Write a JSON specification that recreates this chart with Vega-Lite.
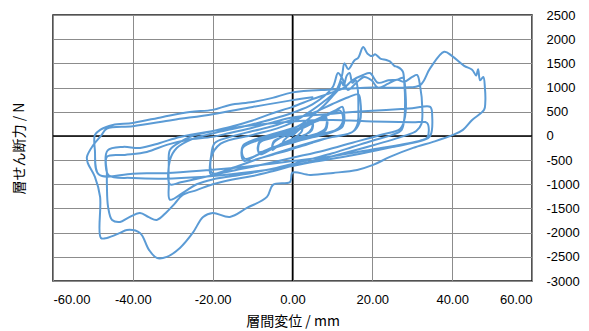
{
"$schema":"https://vega.github.io/schema/vega-lite/v6.json",
"width":479,"height":266,
"autosize":{"type":"none"},
"padding":{"left":53,"top":15,"right":57,"bottom":50},
"background":"white",
"config":{"view":{"stroke":"#1a1a1a","strokeWidth":1.5}},
"layer":[
{"data":{"values":[{"zero":0}]},"mark":{"type":"rule","color":"#000","strokeWidth":1.5},"encoding":{"x":{"field":"zero","type":"quantitative","scale":{"domain":[-60,60],"nice":false},
"axis":{"values":[-60,-40,-20,0,20,40,60],"labelExpr":"datum.value < 0 ? '-' + format(-datum.value, '.2f') : format(datum.value, '.2f')","grid":true,"gridColor":"#8c8c8c","gridWidth":1,"domain":false,"ticks":false,"labelPadding":12,"labelFont":"Liberation Sans","labelFontSize":13,"labelColor":"#000","title":"層間変位 / mm","titleFont":"Noto Sans CJK JP","titleFontSize":14,"titleFontWeight":"normal","titleColor":"#000","titleBaseline":"middle","titleY":40}}}},
{"data":{"values":[{"zero":0}]},"mark":{"type":"rule","color":"#000","strokeWidth":1.5},"encoding":{"y":{"field":"zero","type":"quantitative","scale":{"domain":[-3000,2500],"nice":false},
"axis":{"orient":"right","values":[-3000,-2500,-2000,-1500,-1000,-500,0,500,1000,1500,2000,2500],"labelExpr":"datum.value < 0 ? '-' + format(-datum.value, 'd') : format(datum.value, 'd')","grid":true,"gridColor":"#8c8c8c","gridWidth":1,"domain":false,"ticks":false,"labelPadding":14,"labelFont":"Liberation Sans","labelFontSize":13,"labelColor":"#000","labelAlign":"left","title":"層せん断力 / N","titleFont":"Noto Sans CJK JP","titleFontSize":14,"titleFontWeight":"normal","titleColor":"#000","titleAngle":270,"titleAlign":"center","titleBaseline":"middle","titleX":-513,"titleY":133}}}},
{"data":{"values":[
{"i":1,"x":0,"y":0},{"i":2,"x":1,"y":80},{"i":3,"x":2,"y":150},{"i":4,"x":2.5,"y":180},{"i":5,"x":2.3,"y":90},{"i":6,"x":1.5,"y":20},{"i":7,"x":0,"y":-60},{"i":8,"x":-1,"y":-110},{"i":9,"x":-2,"y":-170},{"i":10,"x":-2.5,"y":-200},
{"i":11,"x":-2.3,"y":-110},{"i":12,"x":-1.5,"y":-40},{"i":13,"x":0,"y":40},{"i":14,"x":2,"y":150},{"i":15,"x":4,"y":240},{"i":16,"x":5,"y":290},{"i":17,"x":4.8,"y":150},{"i":18,"x":3.5,"y":40},{"i":19,"x":1,"y":-50},{"i":20,"x":-2,"y":-140},
{"i":21,"x":-4,"y":-230},{"i":22,"x":-5,"y":-290},{"i":23,"x":-4.8,"y":-150},{"i":24,"x":-3.5,"y":-60},{"i":25,"x":-1,"y":30},{"i":26,"x":2,"y":170},{"i":27,"x":5,"y":270},{"i":28,"x":4.8,"y":110},{"i":29,"x":3,"y":20},{"i":30,"x":0,"y":-70},
{"i":31,"x":-3,"y":-170},{"i":32,"x":-5,"y":-260},{"i":33,"x":-4.7,"y":-110},{"i":34,"x":-2.5,"y":-20},{"i":35,"x":0,"y":70},{"i":36,"x":3,"y":200},{"i":37,"x":6,"y":330},{"i":38,"x":8,"y":400},{"i":39,"x":8.5,"y":370},{"i":40,"x":8.2,"y":150},
{"i":41,"x":6,"y":40},{"i":42,"x":2,"y":-60},{"i":43,"x":-2,"y":-150},{"i":44,"x":-5,"y":-260},{"i":45,"x":-8,"y":-380},{"i":46,"x":-8.5,"y":-340},{"i":47,"x":-8.2,"y":-140},{"i":48,"x":-5,"y":-40},{"i":49,"x":-1,"y":60},{"i":50,"x":3,"y":180},
{"i":51,"x":6,"y":300},{"i":52,"x":8.5,"y":360},{"i":53,"x":8.3,"y":120},{"i":54,"x":5,"y":20},{"i":55,"x":0,"y":-90},{"i":56,"x":-5,"y":-240},{"i":57,"x":-8.5,"y":-330},{"i":58,"x":-8.2,"y":-110},{"i":59,"x":-4,"y":0},{"i":60,"x":0,"y":100},
{"i":61,"x":4,"y":260},{"i":62,"x":8,"y":420},{"i":63,"x":11,"y":540},{"i":64,"x":12.5,"y":600},{"i":65,"x":12.8,"y":540},{"i":66,"x":12.6,"y":200},{"i":67,"x":10,"y":80},{"i":68,"x":5,"y":-30},{"i":69,"x":0,"y":-140},{"i":70,"x":-5,"y":-260},
{"i":71,"x":-9,"y":-400},{"i":72,"x":-12,"y":-520},{"i":73,"x":-12.6,"y":-470},{"i":74,"x":-12.4,"y":-200},{"i":75,"x":-9,"y":-60},{"i":76,"x":-4,"y":60},{"i":77,"x":0,"y":160},{"i":78,"x":4,"y":280},{"i":79,"x":8,"y":400},{"i":80,"x":12,"y":520},
{"i":81,"x":12.6,"y":300},{"i":82,"x":11,"y":130},{"i":83,"x":6,"y":20},{"i":84,"x":0,"y":-120},{"i":85,"x":-6,"y":-290},{"i":86,"x":-12,"y":-470},{"i":87,"x":-12.5,"y":-250},{"i":88,"x":-8,"y":-70},{"i":89,"x":-2,"y":70},{"i":90,"x":2,"y":230},
{"i":91,"x":5,"y":420},{"i":92,"x":8,"y":640},{"i":93,"x":10,"y":820},{"i":94,"x":11.5,"y":960},{"i":95,"x":12.2,"y":1120},{"i":96,"x":12.8,"y":1040},{"i":97,"x":13.6,"y":1250},{"i":98,"x":14.3,"y":1300},{"i":99,"x":15,"y":1100},{"i":100,"x":15.8,"y":1150},
{"i":101,"x":16.3,"y":1000},{"i":102,"x":16.5,"y":600},{"i":103,"x":16.3,"y":250},{"i":104,"x":15,"y":80},{"i":105,"x":10,"y":-20},{"i":106,"x":5,"y":-140},{"i":107,"x":0,"y":-270},{"i":108,"x":-5,"y":-390},{"i":109,"x":-10,"y":-510},{"i":110,"x":-14,"y":-640},
{"i":111,"x":-17,"y":-730},{"i":112,"x":-20,"y":-820},{"i":113,"x":-20.6,"y":-780},{"i":114,"x":-20.4,"y":-420},{"i":115,"x":-19.5,"y":-150},{"i":116,"x":-16,"y":-30},{"i":117,"x":-10,"y":100},{"i":118,"x":-5,"y":200},{"i":119,"x":0,"y":340},{"i":120,"x":5,"y":470},
{"i":121,"x":10,"y":660},{"i":122,"x":14,"y":800},{"i":123,"x":16.5,"y":860},{"i":124,"x":17,"y":720},{"i":125,"x":16.8,"y":280},{"i":126,"x":15,"y":80},{"i":127,"x":8,"y":-60},{"i":128,"x":0,"y":-250},{"i":129,"x":-8,"y":-460},{"i":130,"x":-15,"y":-660},
{"i":131,"x":-20,"y":-770},{"i":132,"x":-20.4,"y":-460},{"i":133,"x":-18,"y":-160},{"i":134,"x":-10,"y":20},{"i":135,"x":-4,"y":150},{"i":136,"x":0,"y":280},{"i":137,"x":4,"y":480},{"i":138,"x":8,"y":720},{"i":139,"x":11,"y":950},{"i":140,"x":12.4,"y":1250},
{"i":141,"x":13,"y":1500},{"i":142,"x":14,"y":1380},{"i":143,"x":15.5,"y":1560},{"i":144,"x":16.5,"y":1620},{"i":145,"x":17.7,"y":1840},{"i":146,"x":18.8,"y":1700},{"i":147,"x":20,"y":1650},{"i":148,"x":20.7,"y":1690},{"i":149,"x":22,"y":1600},{"i":150,"x":23.5,"y":1570},
{"i":151,"x":24.4,"y":1540},{"i":152,"x":25.5,"y":1450},{"i":153,"x":26.2,"y":1430},{"i":154,"x":27.2,"y":1380},{"i":155,"x":27.7,"y":1320},{"i":156,"x":28,"y":1100},{"i":157,"x":28.2,"y":700},{"i":158,"x":28,"y":350},{"i":159,"x":27.3,"y":120},{"i":160,"x":25,"y":20},
{"i":161,"x":20,"y":-100},{"i":162,"x":15,"y":-230},{"i":163,"x":10,"y":-360},{"i":164,"x":5,"y":-470},{"i":165,"x":0,"y":-580},{"i":166,"x":-5,"y":-680},{"i":167,"x":-10,"y":-760},{"i":168,"x":-15,"y":-830},{"i":169,"x":-20,"y":-900},{"i":170,"x":-24,"y":-1000},
{"i":171,"x":-27,"y":-1150},{"i":172,"x":-30.7,"y":-1320},{"i":173,"x":-31,"y":-1000},{"i":174,"x":-31,"y":-600},{"i":175,"x":-30.7,"y":-290},{"i":176,"x":-28,"y":-120},{"i":177,"x":-25,"y":0},{"i":178,"x":-20,"y":100},{"i":179,"x":-15,"y":200},{"i":180,"x":-10,"y":320},
{"i":181,"x":-5,"y":470},{"i":182,"x":0,"y":600},{"i":183,"x":5,"y":760},{"i":184,"x":10,"y":900},{"i":185,"x":13,"y":1000},{"i":186,"x":15,"y":1150},{"i":187,"x":17.7,"y":1260},{"i":188,"x":19.4,"y":1300},{"i":189,"x":21.4,"y":1100},{"i":190,"x":24,"y":1150},
{"i":191,"x":26.2,"y":1160},{"i":192,"x":27.7,"y":1200},{"i":193,"x":28.3,"y":900},{"i":194,"x":28.2,"y":400},{"i":195,"x":27,"y":150},{"i":196,"x":22,"y":20},{"i":197,"x":15,"y":-140},{"i":198,"x":8,"y":-300},{"i":199,"x":0,"y":-450},{"i":200,"x":-8,"y":-600},
{"i":201,"x":-15,"y":-720},{"i":202,"x":-22,"y":-850},{"i":203,"x":-28,"y":-960},{"i":204,"x":-30.7,"y":-1000},{"i":205,"x":-30.7,"y":-500},{"i":206,"x":-29,"y":-250},{"i":207,"x":-25,"y":-60},{"i":208,"x":-20,"y":50},{"i":209,"x":-12,"y":200},{"i":210,"x":-5,"y":350},
{"i":211,"x":0,"y":480},{"i":212,"x":5,"y":650},{"i":213,"x":10,"y":1000},{"i":214,"x":11.4,"y":1300},{"i":215,"x":12.4,"y":1200},{"i":216,"x":13.9,"y":950},{"i":217,"x":16,"y":1100},{"i":218,"x":18,"y":1220},{"i":219,"x":19.8,"y":1150},{"i":220,"x":21.4,"y":1000},
{"i":221,"x":24,"y":1080},{"i":222,"x":26.2,"y":1160},{"i":223,"x":28,"y":1120},{"i":224,"x":30,"y":1220},{"i":225,"x":31.2,"y":1260},{"i":226,"x":32,"y":1013},{"i":227,"x":32.5,"y":600},{"i":228,"x":32.3,"y":250},{"i":229,"x":31,"y":100},{"i":230,"x":28,"y":0},
{"i":231,"x":20,"y":-200},{"i":232,"x":10,"y":-420},{"i":233,"x":0,"y":-620},{"i":234,"x":-5,"y":-730},{"i":235,"x":-10,"y":-830},{"i":236,"x":-15,"y":-900},{"i":237,"x":-20,"y":-1000},{"i":238,"x":-24,"y":-1120},{"i":239,"x":-27.5,"y":-1220},{"i":240,"x":-29.5,"y":-1400},
{"i":241,"x":-31.5,"y":-1572},{"i":242,"x":-34,"y":-1737},{"i":243,"x":-36,"y":-1680},{"i":244,"x":-38.2,"y":-1592},{"i":245,"x":-41.2,"y":-1696},{"i":246,"x":-43.2,"y":-1778},{"i":247,"x":-45.2,"y":-1737},{"i":248,"x":-46.2,"y":-1468},{"i":249,"x":-46.5,"y":-1000},{"i":250,"x":-46.5,"y":-765},
{"i":251,"x":-46.5,"y":-434},{"i":252,"x":-42,"y":-393},{"i":253,"x":-36.5,"y":-331},{"i":254,"x":-31.5,"y":-186},{"i":255,"x":-26.5,"y":-83},{"i":256,"x":-20,"y":-20},{"i":257,"x":-15.7,"y":62},{"i":258,"x":-10,"y":170},{"i":259,"x":-5,"y":280},{"i":260,"x":0,"y":380},
{"i":261,"x":10,"y":460},{"i":262,"x":20,"y":520},{"i":263,"x":30,"y":570},{"i":264,"x":34.5,"y":600},{"i":265,"x":35,"y":400},{"i":266,"x":34.5,"y":0},{"i":267,"x":33,"y":-80},{"i":268,"x":25,"y":-230},{"i":269,"x":15,"y":-400},{"i":270,"x":5,"y":-540},
{"i":271,"x":0,"y":-620},{"i":272,"x":-10,"y":-740},{"i":273,"x":-20,"y":-830},{"i":274,"x":-30,"y":-880},{"i":275,"x":-40,"y":-870},{"i":276,"x":-46,"y":-820},{"i":277,"x":-46.8,"y":-600},{"i":278,"x":-46.3,"y":-300},{"i":279,"x":-42.5,"y":-227},{"i":280,"x":-38.2,"y":-248},
{"i":281,"x":-33.2,"y":-145},{"i":282,"x":-28.2,"y":-21},{"i":283,"x":-20,"y":100},{"i":284,"x":-10,"y":220},{"i":285,"x":0,"y":300},{"i":286,"x":10,"y":330},{"i":287,"x":20,"y":300},{"i":288,"x":30,"y":280},{"i":289,"x":33.7,"y":270},{"i":290,"x":33.8,"y":-30},
{"i":291,"x":32,"y":-100},{"i":292,"x":20,"y":-280},{"i":293,"x":10,"y":-420},{"i":294,"x":0,"y":-520},{"i":295,"x":-10,"y":-620},{"i":296,"x":-20,"y":-700},{"i":297,"x":-30,"y":-760},{"i":298,"x":-40,"y":-780},{"i":299,"x":-48.5,"y":-800},{"i":300,"x":-49.5,"y":-300},
{"i":301,"x":-49.5,"y":20},{"i":302,"x":-48.2,"y":124},{"i":303,"x":-45,"y":227},{"i":304,"x":-40,"y":269},{"i":305,"x":-32.5,"y":393},{"i":306,"x":-25.7,"y":496},{"i":307,"x":-20,"y":538},{"i":308,"x":-15.7,"y":641},{"i":309,"x":-10,"y":700},{"i":310,"x":-5,"y":786},
{"i":311,"x":0,"y":900},{"i":312,"x":10,"y":960},{"i":313,"x":20,"y":1000},{"i":314,"x":28,"y":1000},{"i":315,"x":32,"y":1050},{"i":316,"x":34.5,"y":1400},{"i":317,"x":38,"y":1740},{"i":318,"x":40,"y":1650},{"i":319,"x":43,"y":1450},{"i":320,"x":45,"y":1370},
{"i":321,"x":46,"y":1250},{"i":322,"x":46.5,"y":1380},{"i":323,"x":47,"y":1150},{"i":324,"x":47.8,"y":1220},{"i":325,"x":48.2,"y":1000},{"i":326,"x":48.3,"y":700},{"i":327,"x":48,"y":540},{"i":328,"x":45,"y":330},{"i":329,"x":42.7,"y":124},{"i":330,"x":40.2,"y":20},
{"i":331,"x":35.2,"y":-124},{"i":332,"x":30.2,"y":-248},{"i":333,"x":24.4,"y":-434},{"i":334,"x":20.2,"y":-600},{"i":335,"x":16.2,"y":-703},{"i":336,"x":10.2,"y":-765},{"i":337,"x":4.4,"y":-806},{"i":338,"x":0,"y":-760},{"i":339,"x":-0.6,"y":-951},{"i":340,"x":-4.9,"y":-1013},
{"i":341,"x":-6.4,"y":-1261},{"i":342,"x":-11.4,"y":-1489},{"i":343,"x":-15.7,"y":-1675},{"i":344,"x":-20,"y":-1592},{"i":345,"x":-22.4,"y":-1675},{"i":346,"x":-25,"y":-2006},{"i":347,"x":-28.2,"y":-2316},{"i":348,"x":-31.5,"y":-2502},{"i":349,"x":-34,"y":-2523},{"i":350,"x":-36,"y":-2350},
{"i":351,"x":-38.2,"y":-2006},{"i":352,"x":-41.5,"y":-1944},{"i":353,"x":-43.2,"y":-2006},{"i":354,"x":-46.5,"y":-2110},{"i":355,"x":-48,"y":-2110},{"i":356,"x":-48.2,"y":-1261},{"i":357,"x":-49.5,"y":-848},{"i":358,"x":-51.3,"y":-558},{"i":359,"x":-51.5,"y":-434},{"i":360,"x":-50,"y":-200},
{"i":361,"x":-48,"y":0},{"i":362,"x":-46.5,"y":150},{"i":363,"x":-40,"y":200},{"i":364,"x":-30,"y":330},{"i":365,"x":-20,"y":450},{"i":366,"x":-10,"y":600},{"i":367,"x":0,"y":740},{"i":368,"x":5,"y":800}
]},
"mark":{"type":"line","color":"#5b9bd5","strokeWidth":2,"strokeJoin":"round","strokeCap":"round","interpolate":"catmull-rom"},
"encoding":{
"order":{"field":"i","type":"quantitative"},
"x":{"field":"x","type":"quantitative","scale":{"domain":[-60,60],"nice":false},
"axis":{"values":[-60,-40,-20,0,20,40,60],"labelExpr":"datum.value < 0 ? '-' + format(-datum.value, '.2f') : format(datum.value, '.2f')","grid":true,"gridColor":"#8c8c8c","gridWidth":1,"domain":false,"ticks":false,"labelPadding":12,"labelFont":"Liberation Sans","labelFontSize":13,"labelColor":"#000","title":"層間変位 / mm","titleFont":"Noto Sans CJK JP","titleFontSize":14,"titleFontWeight":"normal","titleColor":"#000","titleBaseline":"middle","titleY":40}},
"y":{"field":"y","type":"quantitative","scale":{"domain":[-3000,2500],"nice":false},
"axis":{"orient":"right","values":[-3000,-2500,-2000,-1500,-1000,-500,0,500,1000,1500,2000,2500],"labelExpr":"datum.value < 0 ? '-' + format(-datum.value, 'd') : format(datum.value, 'd')","grid":true,"gridColor":"#8c8c8c","gridWidth":1,"domain":false,"ticks":false,"labelPadding":14,"labelFont":"Liberation Sans","labelFontSize":13,"labelColor":"#000","labelAlign":"left","title":"層せん断力 / N","titleFont":"Noto Sans CJK JP","titleFontSize":14,"titleFontWeight":"normal","titleColor":"#000","titleAngle":270,"titleAlign":"center","titleBaseline":"middle","titleX":-513,"titleY":133}}
}}
]
}
